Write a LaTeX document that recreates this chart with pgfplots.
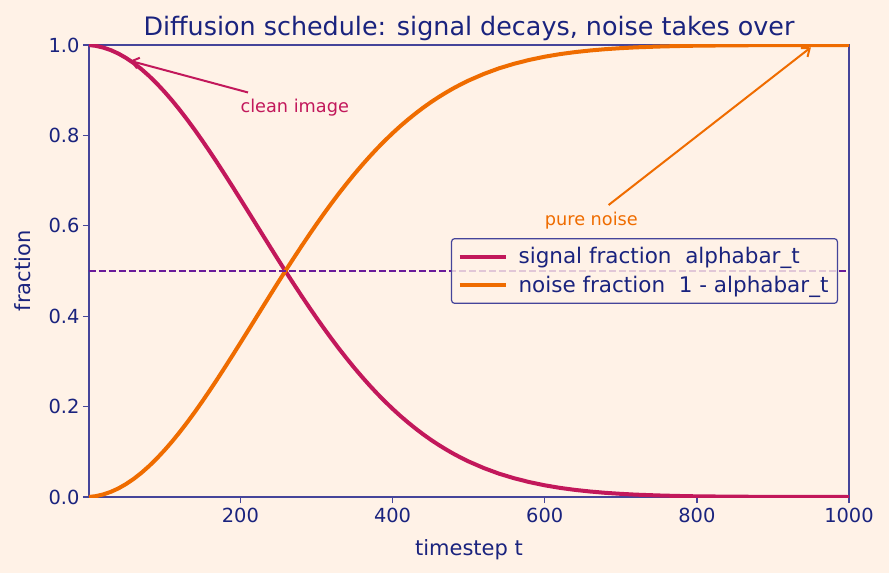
\documentclass[border=0pt]{standalone}
\usepackage{pgfplots}
\pgfplotsset{compat=1.18}
\usepackage{pgfplotstable}
\usepackage{fontspec}
\setmainfont{DejaVu Sans}
\usetikzlibrary{arrows.meta}

\definecolor{bgc}{HTML}{FFF2E7}
\definecolor{navy}{HTML}{1A237E}
\definecolor{spine}{HTML}{45459A}
\definecolor{signal}{HTML}{C2185B}
\definecolor{noise}{HTML}{EF6C00}
\definecolor{half}{HTML}{6A1B9A}

% cumulative signal fraction (alphabar_t) and noise fraction (1 - alphabar_t)
\pgfplotstableread{
t     signal  noise
1     0.9999  0.0001
10    0.9981  0.0019
20    0.9942  0.0058
30    0.9884  0.0116
40    0.9807  0.0193
50    0.9710  0.0290
60    0.9596  0.0404
70    0.9464  0.0536
80    0.9315  0.0685
90    0.9150  0.0850
100   0.8970  0.1030
110   0.8777  0.1223
120   0.8570  0.1430
130   0.8351  0.1649
140   0.8122  0.1878
150   0.7883  0.2117
160   0.7636  0.2364
170   0.7382  0.2618
180   0.7122  0.2878
190   0.6858  0.3142
200   0.6590  0.3410
210   0.6321  0.3679
220   0.6050  0.3950
230   0.5779  0.4221
240   0.5509  0.4491
250   0.5241  0.4759
260   0.4976  0.5024
270   0.4716  0.5284
280   0.4460  0.5540
290   0.4209  0.5791
300   0.3965  0.6035
310   0.3727  0.6273
320   0.3496  0.6504
330   0.3273  0.6727
340   0.3059  0.6941
350   0.2852  0.7148
360   0.2655  0.7345
370   0.2466  0.7534
380   0.2285  0.7715
390   0.2114  0.7886
400   0.1952  0.8048
410   0.1798  0.8202
420   0.1654  0.8346
430   0.1518  0.8482
440   0.1390  0.8610
450   0.1270  0.8730
460   0.1159  0.8841
470   0.1055  0.8945
480   0.0958  0.9042
490   0.0869  0.9131
500   0.0786  0.9214
520   0.0640  0.9360
540   0.0516  0.9484
560   0.0414  0.9586
580   0.0329  0.9671
600   0.0259  0.9741
620   0.0202  0.9798
640   0.0157  0.9843
660   0.0121  0.9879
680   0.0092  0.9908
700   0.0070  0.9930
720   0.0052  0.9948
750   0.0034  0.9966
775   0.0023  0.9977
800   0.0015  0.9985
850   0.0007  0.9993
900   0.0003  0.9997
950   0.0001  0.9999
1000  0.0000  1.0000
}\schedule

\begin{document}
\begin{tikzpicture}
\fill[bgc] (-89pt,-76pt) rectangle (800pt,497pt);
\path[use as bounding box] (-89pt,-76pt) rectangle (800pt,497pt);
\begin{axis}[
  at={(0pt,0pt)}, anchor=south west,
  scale only axis, width=760pt, height=452pt,
  xmin=1, xmax=1000, ymin=0, ymax=1,
  xtick={200,400,600,800,1000},
  ytick={0,0.2,0.4,0.6,0.8,1},
  tick pos=left, tick align=outside,
  major tick length=6pt,
  axis line style={spine, line width=1.3pt},
  every tick/.style={spine, line width=1.3pt},
  ticklabel style={text=navy, font=\fontsize{19.4}{23}\selectfont},
  /pgf/number format/assume math mode=true,
  xticklabel style={/pgf/number format/1000 sep={}, yshift=-2pt},
  yticklabel style={/pgf/number format/.cd, fixed, fixed zerofill, precision=1},
  xlabel={timestep t}, ylabel={fraction},
  label style={text=navy, font=\fontsize{21}{25}\selectfont},
  xlabel style={yshift=-9pt},
  ylabel style={yshift=11pt},
  title={Diffusion schedule: signal decays, noise takes over},
  title style={text=navy, font=\fontsize{25.4}{30}\selectfont, yshift=-5pt},
  legend style={at={(1,0.5)}, anchor=east, xshift=-11pt,
    draw=spine, line width=1.2pt, fill=bgc, fill opacity=0.8, text opacity=1,
    rounded corners=3pt, font=\fontsize{21.5}{25}\selectfont, text=navy,
    inner xsep=6pt, inner ysep=6pt, row sep=5pt,
    nodes={inner ysep=3pt, inner xsep=3pt}},
  legend cell align=left,
  legend image code/.code={\draw[#1, line width=4pt] (0pt,0pt) -- (46pt,0pt);},
]
\addplot[signal, line width=4pt] table[x=t, y=signal] {\schedule};
\addlegendentry{\hspace{8pt}signal fraction\ \ alphabar\_t}
\addplot[noise, line width=4pt] table[x=t, y=noise] {\schedule};
\addlegendentry{\hspace{8pt}noise fraction\ \ 1 - alphabar\_t}
\addplot[half, line width=1.8pt, dash pattern=on 7pt off 3pt, forget plot]
  coordinates {(1,0.5) (1000,0.5)};

\node[anchor=base west, text=signal, font=\fontsize{17.7}{21}\selectfont, inner sep=0pt]
  at (axis cs:200,0.85) {clean image};
\draw[signal, line width=2pt, -{Straight Barb[length=7pt,width=11pt]}]
  (axis cs:210,0.895) -- (axis cs:55,0.965);
\node[anchor=base west, text=noise, font=\fontsize{17.7}{21}\selectfont, inner sep=0pt]
  at (axis cs:600,0.6) {pure noise};
\draw[noise, line width=2pt, -{Straight Barb[length=7pt,width=11pt]}]
  (axis cs:684,0.646) -- (axis cs:950,0.995);
\end{axis}
\end{tikzpicture}
\end{document}
